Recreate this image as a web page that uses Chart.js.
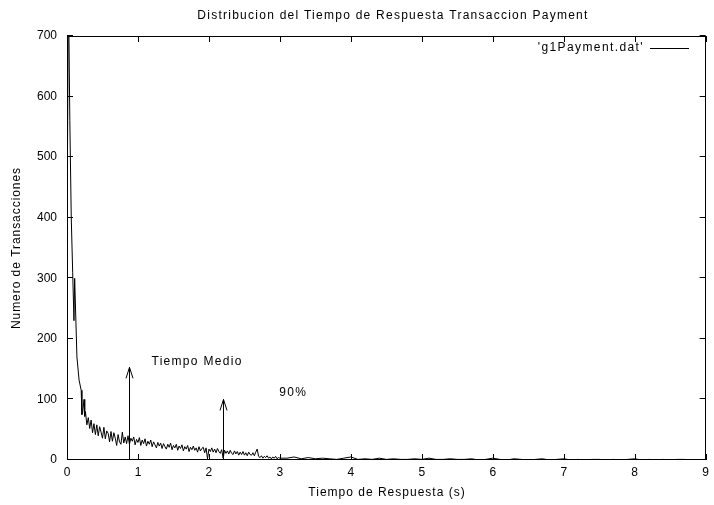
<!DOCTYPE html>
<html>
<head>
<meta charset="utf-8">
<script src="https://cdn.jsdelivr.net/npm/chart.js@4/dist/chart.umd.min.js"></script>
<style>
html,body{margin:0;padding:0;background:#fff;}
canvas{display:block;}
</style>
</head>
<body>
<canvas id="c" width="714" height="505"></canvas>
<script>
const chartTitle = "Distribucion del Tiempo de Respuesta Transaccion Payment";
const xTitle = "Tiempo de Respuesta (s)";
const yTitle = "Numero de Transacciones";
const seriesName = "'g1Payment.dat'";

const times = [
  0, 0.02, 0.04, 0.06, 0.08, 0.098, 0.108, 0.14, 0.17, 0.2, 0.21, 0.22, 0.24, 0.25,
  0.26, 0.28, 0.30, 0.32, 0.34, 0.36, 0.38, 0.40, 0.42, 0.44, 0.46, 0.48, 0.50,
  0.52, 0.54, 0.56, 0.58, 0.60, 0.62, 0.64, 0.66, 0.68, 0.70, 0.72, 0.74, 0.76,
  0.78, 0.80, 0.82, 0.84, 0.86, 0.88, 0.90, 0.92, 0.94, 0.96, 0.98, 1.00, 1.02,
  1.04, 1.06, 1.08, 1.10, 1.12, 1.14, 1.16, 1.18, 1.20, 1.22, 1.24, 1.26, 1.28,
  1.30, 1.32, 1.34, 1.36, 1.38, 1.40, 1.42, 1.44, 1.46, 1.48, 1.50, 1.52, 1.54,
  1.56, 1.58, 1.60, 1.62, 1.64, 1.66, 1.68, 1.70, 1.72, 1.74, 1.76, 1.78, 1.80,
  1.82, 1.84, 1.86, 1.88, 1.90, 1.92, 1.94, 1.96, 1.98, 2.00, 2.02, 2.04, 2.06,
  2.08, 2.10, 2.12, 2.14, 2.16, 2.18, 2.20, 2.22, 2.24, 2.26, 2.28, 2.30, 2.32,
  2.34, 2.36, 2.38, 2.40, 2.42, 2.44, 2.46, 2.48, 2.50, 2.52, 2.54, 2.56, 2.58,
  2.60, 2.62, 2.64, 2.66, 2.68, 2.70, 2.72, 2.74, 2.76, 2.78, 2.80, 2.82, 2.84,
  2.86, 2.88, 2.90, 2.92, 2.94, 2.96, 2.98, 3.00,
  3.1, 3.2, 3.3, 3.4, 3.5, 3.6, 3.7, 3.8, 3.9, 4.0, 4.1, 4.2, 4.3, 4.4, 4.5,
  4.6, 4.7, 4.8, 4.9, 5.0, 5.1, 5.2, 5.3, 5.4, 5.5, 5.6, 5.7, 5.8, 5.9, 6.0,
  6.1, 6.2, 6.3, 6.4, 6.5, 6.6, 6.7, 6.8, 6.9, 7.0, 7.1, 7.2, 7.3, 7.4, 7.5,
  7.6, 7.7, 7.8, 7.9, 8.0, 8.1, 8.2, 8.3, 8.4, 8.5, 8.6, 8.7, 8.8
];

const counts = [
  360, 780, 560, 400, 310, 230, 300, 170, 132, 115, 75, 78, 100, 72,
  80, 58, 70, 52, 66, 45, 60, 42, 58, 40, 55, 46, 36,
  54, 35, 48, 44, 30, 47, 31, 45, 36, 24, 42, 30, 26,
  46, 28, 38, 27, 40, 26, 36, 31, 38, 25, 34, 29, 37,
  24, 33, 27, 35, 23, 31, 26, 33, 22, 30, 25, 20, 29,
  23, 28, 19, 27, 22, 18, 26, 21, 28, 17, 24, 20, 26,
  16, 23, 19, 25, 15, 22, 18, 24, 14, 21, 17, 23, 16,
  20, 13, 22, 15, 19, 21, 12, 20, 2, 18, 14, 20, 13,
  18, 12, 19, 14, 11, 17, 3, 16, 11, 15, 10, 16, 11,
  9, 15, 10, 14, 8, 13, 9, 14, 8, 12, 7, 13, 9,
  8, 12, 7, 13, 18, 6, 4, 7, 3, 6, 4, 7, 3,
  5, 2, 5, 3, 6, 2, 4, 3,
  3, 5, 2, 4, 2, 3, 2, 1, 3, 5, 1, 2, 1, 3, 1,
  2, 1, 1, 2, 1, 3, 1, 1, 2, 1, 1, 2, 0, 1, 3,
  1, 0, 2, 1, 0, 1, 2, 0, 1, 2, 0, 1, 0, 1, 1,
  0, 1, 0, 1, 2, 0, 1, 0, 1, 0, 1, 1, 0
];

const xTicks = [0, 1, 2, 3, 4, 5, 6, 7, 8, 9];
const yTicks = [0, 100, 200, 300, 400, 500, 600, 700];

const arrowLabels = ["Tiempo Medio", "90%"];
const arrowX = [0.876, 2.2];
const arrowTop = [153, 100];
const labelX = [1.19, 2.99];
const labelY = [162, 111];

const FONT = '12px "Liberation Sans", Arial, sans-serif';

const framePlugin = {
  id: 'frame',
  afterDatasetsDraw(chart) {
    const ctx = chart.ctx;
    const a = chart.chartArea;
    const xs = chart.scales.x, ys = chart.scales.y;
    ctx.save();
    ctx.strokeStyle = '#000';
    ctx.lineWidth = 1;
    ctx.strokeRect(Math.round(a.left) + 0.5, Math.round(a.top) + 0.5,
      Math.round(a.right - a.left) - 1, Math.round(a.bottom - a.top) - 1);
    const tl = 6;
    ctx.beginPath();
    xTicks.forEach(v => {
      const p = Math.round(xs.getPixelForValue(v)) + 0.5;
      ctx.moveTo(p, a.bottom); ctx.lineTo(p, a.bottom - tl);
      ctx.moveTo(p, a.top); ctx.lineTo(p, a.top + tl);
    });
    yTicks.forEach(v => {
      const p = Math.round(ys.getPixelForValue(v)) - 0.5;
      ctx.moveTo(a.left, p); ctx.lineTo(a.left + tl, p);
      ctx.moveTo(a.right, p); ctx.lineTo(a.right - tl, p);
    });
    ctx.stroke();

    ctx.beginPath();
    arrowX.forEach((v, i) => {
      const px = Math.round(xs.getPixelForValue(v)) + 0.5;
      const y0 = ys.getPixelForValue(0);
      const y1 = ys.getPixelForValue(arrowTop[i]);
      ctx.moveTo(px, y0); ctx.lineTo(px, y1);
      ctx.moveTo(px - 3.5, y1 + 11); ctx.lineTo(px, y1); ctx.lineTo(px + 3.5, y1 + 11);
    });
    ctx.stroke();

    ctx.fillStyle = '#000';
    ctx.font = FONT;
    ctx.textBaseline = 'middle';
    ctx.textAlign = 'left';
    ctx.letterSpacing = '1.3px';
    arrowLabels.forEach((t, i) => {
      ctx.fillText(t, xs.getPixelForValue(labelX[i]), ys.getPixelForValue(labelY[i]));
    });

    ctx.textAlign = 'right';
    ctx.letterSpacing = '1.4px';
    ctx.fillText(seriesName, 644, 48);
    ctx.beginPath();
    ctx.moveTo(650, 48.5); ctx.lineTo(689, 48.5);
    ctx.stroke();

    ctx.textAlign = 'center';
    ctx.letterSpacing = '1.25px';
    ctx.fillText(chartTitle, 393, 16);
    ctx.letterSpacing = '1px';
    ctx.fillText(xTitle, 387, 493);
    ctx.save();
    ctx.translate(17, 248);
    ctx.rotate(-Math.PI / 2);
    ctx.letterSpacing = '0.95px';
    ctx.fillText(yTitle, 0, 0);
    ctx.restore();
    ctx.restore();
  }
};

new Chart(document.getElementById('c'), {
  type: 'line',
  data: {
    datasets: [{
      label: seriesName,
      data: times.map((t, i) => ({ x: t, y: counts[i] })),
      borderColor: '#000',
      borderWidth: 1,
      pointRadius: 0,
      tension: 0,
      fill: false
    }]
  },
  options: {
    responsive: false,
    animation: false,
    devicePixelRatio: 1,
    layout: { padding: { top: 36, right: 5, left: 0, bottom: 0 } },
    plugins: { legend: { display: false }, tooltip: { enabled: false }, title: { display: false } },
    scales: {
      x: {
        type: 'linear', min: 0, max: 9,
        afterBuildTicks: s => { s.ticks = xTicks.map(v => ({ value: v })); },
        ticks: { color: '#000', font: { family: '"Liberation Sans", Arial, sans-serif', size: 12 }, padding: 5, maxRotation: 0 },
        grid: { display: false, tickLength: 0 },
        border: { display: false },
        afterFit: s => { s.height = 45; }
      },
      y: {
        type: 'linear', min: 0, max: 700,
        afterBuildTicks: s => { s.ticks = yTicks.map(v => ({ value: v })); },
        ticks: { color: '#000', font: { family: '"Liberation Sans", Arial, sans-serif', size: 12 }, padding: 10 },
        grid: { display: false, tickLength: 0 },
        border: { display: false },
        afterFit: s => { s.width = 67; }
      }
    }
  },
  plugins: [framePlugin]
});
</script>
</body>
</html>
